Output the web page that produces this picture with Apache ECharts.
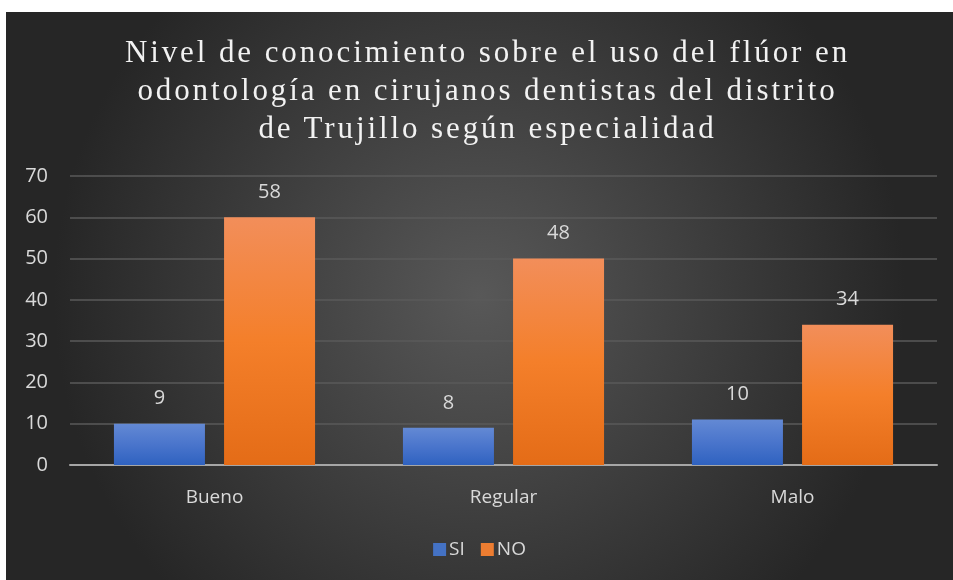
<!DOCTYPE html>
<html>
<head>
<meta charset="utf-8">
<script src="https://cdn.jsdelivr.net/npm/echarts@6/dist/echarts.min.js"></script>
<style>
  html, body { margin:0; padding:0; background:#fff; }
  #wrap { position:absolute; left:6px; top:12px; width:947px; height:568px; }
  #main { position:absolute; left:0; top:0; width:947px; height:568px; }
  #ttl { position:absolute; left:8px; top:21px; width:947px; text-align:center;
         font-family:"Liberation Serif","DejaVu Serif",serif; font-size:31px;
         line-height:38px; letter-spacing:2.9px; color:#f2f2f2; pointer-events:none; }
</style>
</head>
<body>
<div id="wrap">
  <div id="main"></div>
  <div id="ttl">Nivel de conocimiento sobre el uso del flúor en<br>odontología en cirujanos dentistas del distrito<br>de Trujillo según especialidad</div>
</div>
<script>
var categorias = ['Bueno', 'Regular', 'Malo'];
// alturas de las barras tal como se ven
var siAltura = [10, 9, 11];
var noAltura = [60, 50, 34];
// etiquetas de datos que muestra el gráfico
var siEtiqueta = [9, 8, 10];
var noEtiqueta = [58, 48, 34];
var ticksY = [0, 10, 20, 30, 40, 50, 60, 70];

var myChart = echarts.init(document.getElementById('main'));

function grad(top, mid, bottom) {
  return new echarts.graphic.LinearGradient(0, 0, 0, 1, [
    {offset: 0, color: top}, {offset: 0.5, color: mid}, {offset: 1, color: bottom}
  ]);
}

var option = {
  animation: false,
  backgroundColor: new echarts.graphic.RadialGradient(0.5, 0.5, 0.75, [
    {offset: 0, color: '#585858'},
    {offset: 1, color: '#262626'}
  ]),
  textStyle: { fontFamily: 'Open Sans' },
  legend: {
    bottom: 16,
    left: 'center',
    itemWidth: 13,
    itemHeight: 13,
    itemGap: 16,
    icon: 'rect',
    textStyle: { color: '#d9d9d9', fontSize: 19, padding: [0, 0, 0, -2] },
    data: ['SI', 'NO']
  },
  grid: { left: 64, right: 16, top: 164, bottom: 115 },
  xAxis: {
    type: 'category',
    data: categorias,
    axisLine: { lineStyle: { color: '#a6a6a6', width: 2 } },
    axisTick: { show: false },
    axisLabel: { color: '#d9d9d9', fontSize: 19, margin: 23 }
  },
  yAxis: {
    type: 'value',
    min: ticksY[0],
    max: ticksY[ticksY.length - 1],
    interval: 10,
    axisLine: { show: false },
    axisTick: { show: false },
    axisLabel: { color: '#d9d9d9', fontSize: 20, margin: 22 },
    splitLine: { lineStyle: { color: '#5a5a5a', width: 1.5 } }
  },
  series: [
    {
      name: 'SI',
      type: 'bar',
      data: siAltura,
      barWidth: 91,
      barGap: '21%',
      itemStyle: { color: grad('#6389d4', '#4a75cc', '#2f62c0') },
      label: {
        show: true, position: 'top', distance: 15,
        color: '#d9d9d9', fontSize: 20,
        formatter: function (p) { return siEtiqueta[p.dataIndex]; }
      }
    },
    {
      name: 'NO',
      type: 'bar',
      data: noAltura,
      barWidth: 91,
      barGap: '21%',
      itemStyle: { color: grad('#f28e5a', '#f47f2a', '#e46c17') },
      label: {
        show: true, position: 'top', distance: 15,
        color: '#d9d9d9', fontSize: 20,
        formatter: function (p) { return noEtiqueta[p.dataIndex]; }
      }
    }
  ]
};
// colores de la leyenda
option.legend.data = [
  { name: 'SI', itemStyle: { color: '#4472c4' } },
  { name: 'NO', itemStyle: { color: '#ed7d31' } }
];
myChart.setOption(option);
</script>
</body>
</html>
